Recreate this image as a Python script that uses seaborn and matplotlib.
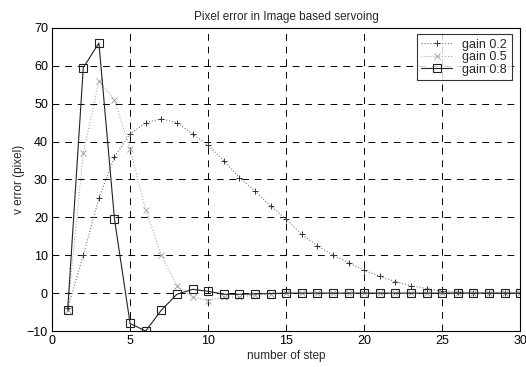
import numpy as np
import pandas as pd
import matplotlib
matplotlib.use("Agg")
import matplotlib.pyplot as plt
import seaborn as sns

steps = list(range(1, 31))
gain_02 = [-4, 10, 25, 36, 42, 45, 46, 45, 42, 39, 35, 30.5, 27, 23, 19.5,
           15.5, 12.5, 10, 8, 6, 4.5, 3, 2, 1.2, 0.5, 0.3, 0.1, 0, 0, 0]
gain_05 = [-4.5, 37, 56, 51, 38, 22, 10, 2, -1, -2, -1, -1, -0.5, -0.3, 0,
           0, 0, 0, 0, 0, 0, 0, 0, 0, 0, 0, 0, 0, 0, 0]
gain_08 = [-4.5, 59.5, 66, 19.5, -8, -10, -4.5, -0.3, 1, 0.5, -0.3, -0.3, -0.2, -0.1, 0,
           0, 0, 0, 0, 0, 0, 0, 0, 0, 0, 0, 0, 0, 0, 0]
labels = ["gain 0.2", "gain 0.5", "gain 0.8"]

sns.set_theme(style="white")
plt.rcParams['font.family'] = ['Liberation Sans', 'DejaVu Sans']

fig, ax = plt.subplots(figsize=(5.26, 3.67), dpi=100)
fig.subplots_adjust(left=0.099, right=0.989, top=0.924, bottom=0.098)

df = pd.DataFrame({"step": steps, labels[0]: gain_02, labels[1]: gain_05, labels[2]: gain_08})

sns.lineplot(data=df, x="step", y=labels[0], ax=ax, color="#777777", lw=0.8,
             linestyle=":", marker="+", markersize=5, markeredgecolor="#333333",
             markeredgewidth=0.7, label=labels[0])
sns.lineplot(data=df, x="step", y=labels[1], ax=ax, color="#aaaaaa", lw=0.8,
             linestyle=":", marker="x", markersize=4, markeredgecolor="#999999",
             markeredgewidth=0.6, label=labels[1])
sns.lineplot(data=df, x="step", y=labels[2], ax=ax, color="#222222", lw=0.8,
             linestyle="-", marker="s", markersize=6, markerfacecolor="none",
             markeredgecolor="#222222", markeredgewidth=0.8, label=labels[2])

ax.set_xlim(0, 30)
ax.set_ylim(-10, 70)
ax.set_xticks(np.arange(0, 31, 5))
ax.set_yticks(np.arange(-10, 71, 10))
ax.grid(True, color="black", linestyle=(0, (7, 6)), linewidth=0.7)
for s in ax.spines.values():
    s.set_color("black")
    s.set_linewidth(0.8)
ax.tick_params(axis="both", labelsize=9, length=3, direction="in", colors="black", pad=3)

ax.set_title("Pixel error in Image based servoing", fontsize=8.5)
ax.set_xlabel("number of step", fontsize=8.5, labelpad=2)
ax.set_ylabel("v error (pixel)", fontsize=8.5, labelpad=1)

leg = ax.legend(loc="upper right", fontsize=9, frameon=True, fancybox=False,
                edgecolor="black", handlelength=2.5, borderpad=0.35, labelspacing=0.05,
                bbox_to_anchor=(0.995, 1.0))
leg.get_frame().set_linewidth(0.8)

fig.savefig("out.png", dpi=100)
